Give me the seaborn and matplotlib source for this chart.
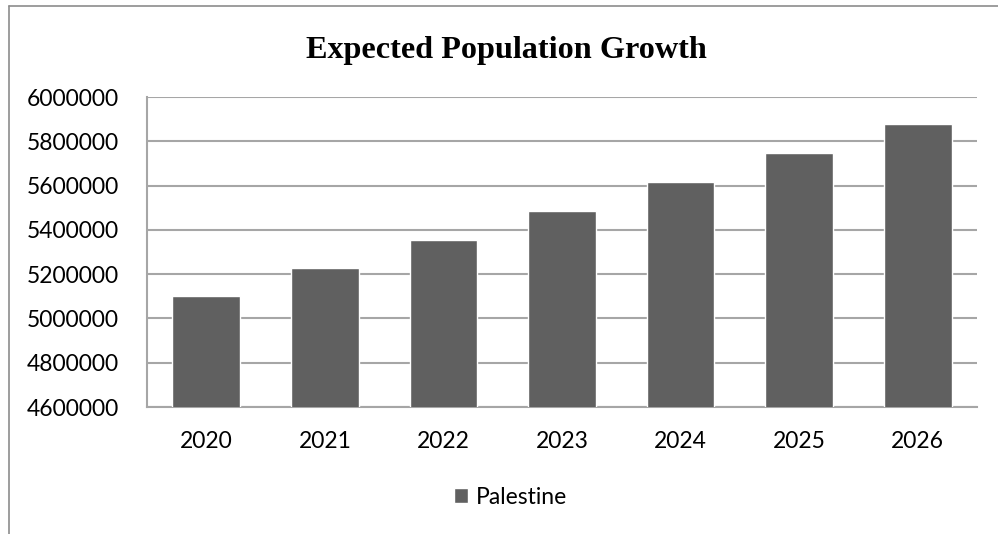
import matplotlib
matplotlib.use("Agg")
import matplotlib.pyplot as plt
from matplotlib.lines import Line2D
from matplotlib.ticker import FuncFormatter, MultipleLocator
import seaborn as sns
import pandas as pd

years = ["2020", "2021", "2022", "2023", "2024", "2025", "2026"]
population = [5101000, 5227000, 5355000, 5485000, 5614000, 5747000, 5878000]
series_name = "Palestine"
title_text = "Expected Population Growth"

df = pd.DataFrame({"year": years, "population": population, "country": series_name})

sns.set_theme(style="white")
plt.rcParams["font.family"] = ["Lato", "DejaVu Sans"]
plt.rcParams["text.color"] = "black"

fig = plt.figure(figsize=(9.98, 5.34), dpi=100)
ax = fig.add_axes([147 / 998, 1 - 407 / 534, (977 - 147) / 998, (407 - 97) / 534])

bar_color = "#606060"
grid_color = "#a6a6a6"

sns.barplot(data=df, x="year", y="population", hue="country",
            palette=[bar_color], width=0.57, ax=ax, legend=True,
            saturation=1, zorder=3)

ax.set_ylim(4600000, 6000000)
ax.yaxis.set_major_locator(MultipleLocator(200000))
ax.yaxis.set_major_formatter(FuncFormatter(lambda v, p: f"{int(round(v))}"))
ax.grid(axis="y", color=grid_color, linewidth=1.5, zorder=0)
ax.set_axisbelow(True)
ax.set_xlabel("")
ax.set_ylabel("")

for side in ["top", "right"]:
    ax.spines[side].set_visible(False)
for side in ["left", "bottom"]:
    ax.spines[side].set_color(grid_color)
    ax.spines[side].set_linewidth(1.5)

ax.tick_params(axis="both", length=0, labelsize=16.5, colors="#000000")
ax.tick_params(axis="x", pad=17)
ax.tick_params(axis="y", pad=20)

fig.text(506 / 998, 1 - 58 / 534, title_text, ha="center", va="baseline",
         fontsize=23.2, fontweight="bold", color="black",
         family=["Liberation Serif", "DejaVu Serif"])

handles, labels = ax.get_legend_handles_labels()
ax.legend(handles, labels, loc="center", bbox_to_anchor=(511 / 998, 1 - 497 / 534),
          bbox_transform=fig.transFigure, frameon=False, fontsize=16.5,
          handlelength=0.6, handleheight=0.6, handletextpad=0.35,
          labelcolor="black")

# chart area border
fig.add_artist(Line2D([9 / 998, 1.0], [1 - 6 / 534, 1 - 6 / 534],
                      transform=fig.transFigure, color="#8c8c8c", linewidth=1.2))
fig.add_artist(Line2D([9 / 998, 9 / 998], [0.0, 1 - 6 / 534],
                      transform=fig.transFigure, color="#8c8c8c", linewidth=1.2))

fig.savefig("out.png", dpi=100, facecolor="white")
